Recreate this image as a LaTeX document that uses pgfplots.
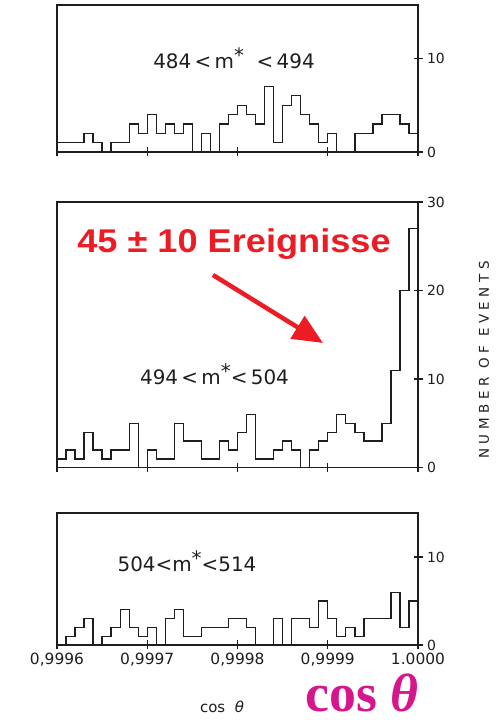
\documentclass[border=0pt]{standalone}
\usepackage{fontspec}
\setmainfont{DejaVu Sans}
\newfontfamily\annotfont{Liberation Sans}
\newfontfamily\serifbig{Liberation Serif}
\usepackage{pgfplots}
\pgfplotsset{compat=1.18}
\usetikzlibrary{arrows.meta}

\definecolor{ink}{RGB}{30,30,30}
\definecolor{annotred}{RGB}{236,28,36}
\definecolor{inkmagenta}{RGB}{214,22,140}

% x is measured in bins of 1e-5 in cos(theta), counted from 0.9996
\pgfplotsset{
  panel/.style={
    anchor=south west,
    scale only axis, width=361bp,
    xmin=0, xmax=40, ymin=0,
    axis line style={ink, line width=1.4bp},
    tick style={ink, line width=1.3bp},
    tick align=center, major tick length=9bp,
    xtick pos=bottom, ytick pos=right, yticklabel pos=right,
    xtick={0,10,20,30,40}, xticklabels={},
    yticklabel style={font=\fontsize{14}{14}\selectfont, text=ink, xshift=1bp},
    xticklabel style={font=\fontsize{15.5}{15.5}\selectfont, text=ink},
    /pgf/number format/assume math mode=true,
  },
  hist/.style={const plot mark left, ink, line width=1.35bp, mark=none},
}

\begin{document}
\begin{tikzpicture}
\useasboundingbox (0bp,0bp) rectangle (500bp,720bp);

% 484 < m* < 494
\begin{axis}[panel, at={(57bp,568bp)}, height=147bp, ymax=15.7, ytick={0,10}]
\addplot[hist] coordinates {
(0,1)(1,1)(2,1)(3,2)(4,1)(5,0)(6,1)(7,1)(8,3)(9,2)
(10,4)(11,2)(12,3)(13,2)(14,3)(15,0)(16,2)(17,0)(18,3)(19,4)
(20,5)(21,4)(22,3)(23,7)(24,1)(25,5)(26,6)(27,4)(28,3)(29,1)
(30,2)(31,0)(32,0)(33,2)(34,2)(35,3)(36,4)(37,4)(38,3)(39,2)(40,2)};
\end{axis}

% 494 < m* < 504
\begin{axis}[panel, at={(57bp,252.3bp)}, height=265.7bp, ymax=30, ytick={0,10,20,30}]
\addplot[hist] coordinates {
(0,1)(1,2)(2,1)(3,4)(4,2)(5,1)(6,2)(7,2)(8,5)(9,0)
(10,2)(11,1)(12,1)(13,5)(14,3)(15,3)(16,1)(17,1)(18,3)(19,2)
(20,4)(21,6)(22,1)(23,1)(24,2)(25,3)(26,2)(27,0)(28,2)(29,3)
(30,4)(31,6)(32,5)(33,4)(34,3)(35,3)(36,5)(37,11)(38,20)(39,27)(40,27)};
\end{axis}

% 504 < m* < 514
\begin{axis}[panel, at={(57bp,75bp)}, height=132bp, ymax=15, ytick={0,10},
  xticklabels={{0,9996},{0,9997},{0,9998},{0,9999},{1.0000}}]
\addplot[hist] coordinates {
(0,0)(1,1)(2,2)(3,3)(4,0)(5,1)(6,2)(7,4)(8,2)(9,1)
(10,2)(11,0)(12,3)(13,4)(14,1)(15,1)(16,2)(17,2)(18,2)(19,3)
(20,3)(21,2)(22,0)(23,0)(24,3)(25,0)(26,3)(27,3)(28,2)(29,5)
(30,3)(31,1)(32,2)(33,1)(34,3)(35,3)(36,3)(37,6)(38,2)(39,5)(40,5)};
\end{axis}

% panel captions
\node[text=ink, font=\fontsize{20}{20}\selectfont] at (234bp,662bp)
  {484\,<\,m\raisebox{.3em}{*}\ \ <\,494};
\node[text=ink, font=\fontsize{20}{20}\selectfont] at (214.5bp,346bp)
  {494\,<\,m\raisebox{.3em}{*}<\,504};
\node[text=ink, font=\fontsize{20}{20}\selectfont] at (187bp,159bp)
  {504<m\raisebox{.3em}{*}<514};

\node[text=ink, rotate=90, font=\fontsize{13.5}{13.5}\selectfont\addfontfeature{LetterSpace=34}]
  at (484bp,360bp) {NUMBER OF EVENTS};

\node[text=ink, font=\fontsize{15}{15}\selectfont] at (222bp,13bp) {cos\ \ \textit{θ}};

% annotation
\node[text=annotred, font=\annotfont\bfseries\fontsize{33}{33}\selectfont] at (234bp,476bp)
  {\scalebox{1.1}[1]{45 ± 10 Ereignisse}};
\draw[annotred, line width=4.5bp, -{Triangle[length=30bp, width=26bp]}] (213bp,445bp) -- (323bp,377bp);
\node[text=inkmagenta, anchor=base, inner sep=0pt, text depth=0pt,
  font=\serifbig\bfseries\fontsize{54}{54}\selectfont]
  at (362bp,9bp) {cos \textit{θ}};
\end{tikzpicture}
\end{document}
